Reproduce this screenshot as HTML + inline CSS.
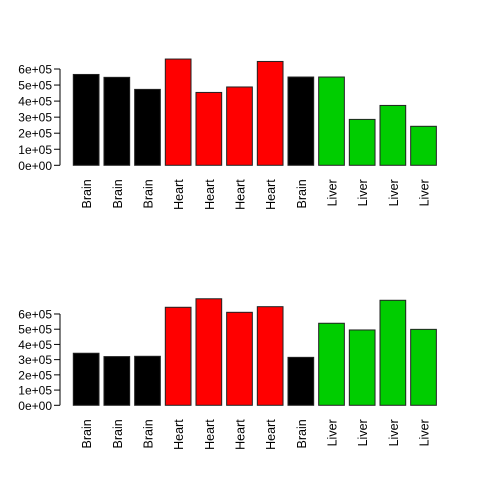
<!DOCTYPE html>
<html><head><meta charset="utf-8"><style>
body{margin:0;background:#fff}
svg{display:block;font-family:"Liberation Sans",sans-serif}
</style></head><body>
<svg id="c" width="480" height="480"></svg>
<script>
const categories=["Brain","Brain","Brain","Heart","Heart","Heart","Heart","Brain","Liver","Liver","Liver","Liver"];
const topValues=[566000,548000,473000,662000,454000,488000,647000,550000,550000,286000,373000,243000];
const bottomValues=[342000,320000,322000,644000,700000,611000,648000,315000,539000,495000,690000,499000];
const tickLabels=["0e+00","1e+05","2e+05","3e+05","4e+05","5e+05","6e+05"];
const tickValues=[0,100000,200000,300000,400000,500000,600000];
const colorMap={Brain:"#000000",Heart:"#ff0000",Liver:"#00cd00"};
const NS="http://www.w3.org/2000/svg";
const svg=document.getElementById('c');
function mk(t,a){const e=document.createElementNS(NS,t);for(const k in a)e.setAttribute(k,a[k]);svg.appendChild(e);return e;}
function panel(vals,y0,pxPer,name){
  const y=v=>y0-v/100000*pxPer;
  const x=i=>73.3+i*30.67;
  const ax=mk('line',{x1:60,x2:60,y1:y(0),y2:y(600000),stroke:'#000'});
  
  
  tickValues.forEach((tv,i)=>{
    const t=mk('line',{x1:54,x2:60,y1:y(tv),y2:y(tv),stroke:'#000'});
    
    
    const l=mk('text',{x:52,y:y(tv)+4.5,'text-anchor':'end','font-size':12});
    l.textContent=tickLabels[i];
    
    
  });
  vals.forEach((v,i)=>{
    const r=mk('rect',{x:x(i),y:y(v),width:25.7,height:y(0)-y(v),fill:colorMap[categories[i]],stroke:'#222','stroke-width':1});
    
    
    const cx=x(i)+12.85+5,ty=y0+14;
    const t=mk('text',{x:cx,y:ty,'text-anchor':'end','font-size':12.5,transform:`rotate(-90 ${cx} ${ty})`});
    t.textContent=categories[i];
    
    
  });
}
panel(topValues,165.3,16.05,'top');
panel(bottomValues,405.3,15.22,'bottom');
</script>
</body></html>
